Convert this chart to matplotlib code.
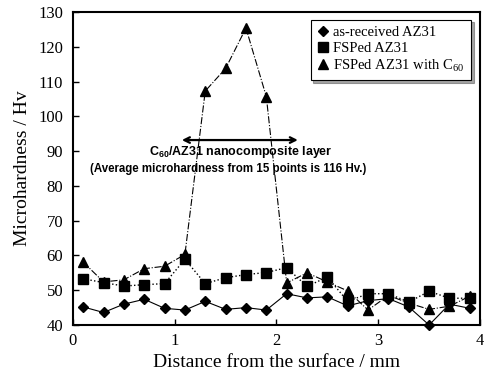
import matplotlib
matplotlib.use("Agg")
import matplotlib.pyplot as plt
from matplotlib.lines import Line2D

plt.rcParams['font.family'] = ['Liberation Serif', 'DejaVu Serif']
plt.rcParams['mathtext.fontset'] = 'custom'
plt.rcParams['mathtext.rm'] = 'Liberation Serif'
plt.rcParams['mathtext.bf'] = 'Liberation Sans:bold'

distance = [0.1, 0.3, 0.5, 0.7, 0.9, 1.1, 1.3, 1.5, 1.7, 1.9,
            2.1, 2.3, 2.5, 2.7, 2.9, 3.1, 3.3, 3.5, 3.7, 3.9]
as_received = [45.2, 43.6, 46.0, 47.4, 44.8, 44.3, 46.8, 44.5, 45.0, 44.3,
               49.0, 47.8, 48.1, 45.5, 47.0, 47.6, 45.2, 40.0, 46.0, 44.8]
fsped = [53.3, 52.2, 51.2, 51.6, 51.9, 58.9, 51.9, 53.6, 54.5, 55.1,
         56.5, 51.1, 53.8, 46.8, 49.0, 49.0, 46.6, 49.7, 47.7, 47.7]
fsped_c60 = [58.1, 52.4, 53.0, 56.2, 56.9, 60.3, 107.3, 113.8, 125.4, 105.7,
             52.1, 55.0, 52.4, 49.8, 44.3, 48.5, 46.3, 44.5, 45.4, 48.3]
legend_labels = ['as-received AZ31', 'FSPed AZ31', 'FSPed AZ31 with C$_{60}$']

fig = plt.figure(figsize=(4.84, 3.78), dpi=100)
ax = fig.add_axes([0.1508, 0.1402, 0.8409, 0.8278])

ax.plot(distance, as_received, '-', color='black', lw=0.8, marker='D', ms=5, zorder=3, clip_on=False)
ax.plot(distance, fsped, ':', color='black', lw=1.0, marker='s', ms=6.5, zorder=3)
ax.plot(distance, fsped_c60, '-.', color='black', lw=0.8, marker='^', ms=7, zorder=3)

ax.set_xlim(0, 4)
ax.set_ylim(40, 130)
ax.set_xticks([0, 1, 2, 3, 4])
ax.set_yticks(range(40, 131, 10))
ax.tick_params(direction='in', length=4, width=1, labelsize=12)
ax.tick_params(axis='y', pad=7)
ax.tick_params(axis='x', pad=6)
for s in ax.spines.values():
    s.set_linewidth(1.5)

ax.set_xlabel('Distance from the surface / mm', fontsize=14, labelpad=3)
ax.set_ylabel('Microhardness / Hv', fontsize=14, labelpad=5)

ax.annotate('', xy=(1.07, 93.2), xytext=(2.21, 93.2),
            arrowprops=dict(arrowstyle='<->', color='black', lw=1.6, shrinkA=0, shrinkB=0))
ax.text(1.65, 89.8, r'$\mathbf{C_{60}}$/AZ31 nanocomposite layer', ha='center', va='center',
        fontsize=9.0, fontweight='bold', family='Liberation Sans')
ax.text(1.53, 84.9, '(Average microhardness from 15 points is 116 Hv.)', ha='center', va='center',
        fontsize=8.3, fontweight='bold', family='Liberation Sans')

handles = [Line2D([], [], ls='none', marker='D', ms=5, color='black'),
           Line2D([], [], ls='none', marker='s', ms=6.5, color='black'),
           Line2D([], [], ls='none', marker='^', ms=7, color='black')]
leg = ax.legend(handles, legend_labels, loc='upper right', bbox_to_anchor=(0.985, 0.985),
                fontsize=10.5, frameon=True, fancybox=False, shadow=True,
                handlelength=0.8, handletextpad=0.3, borderpad=0.45, labelspacing=0.15,
                borderaxespad=0.2)
leg.get_frame().set_edgecolor('black')
leg.get_frame().set_linewidth(0.8)

fig.savefig('out.png', dpi=100)
